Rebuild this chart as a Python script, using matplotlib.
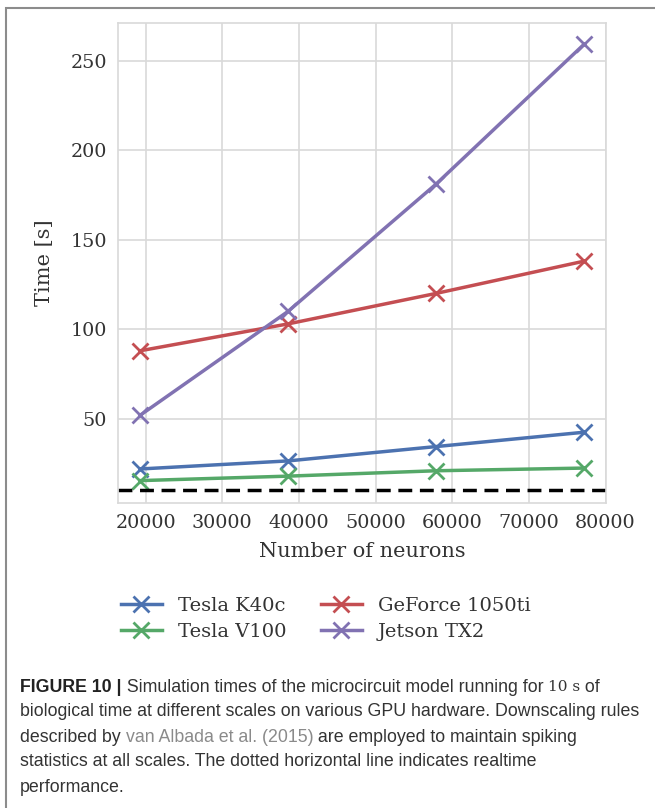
import numpy as np
import matplotlib.pyplot as plt
from matplotlib.patches import Rectangle

# data
neurons = [19292, 38585, 57877, 77169]
tesla_k40c = [22, 26.5, 34.5, 42.5]
tesla_v100 = [15.5, 18, 21, 22.5]
geforce_1050ti = [88, 103, 120, 138]
jetson_tx2 = [52, 110, 181, 259]
realtime = 10

series = [('Tesla K40c', tesla_k40c, '#4C72B0'),
          ('Tesla V100', tesla_v100, '#55A868'),
          ('GeForce 1050ti', geforce_1050ti, '#C44E52'),
          ('Jetson TX2', jetson_tx2, '#8172B2')]

plt.rcParams['font.family'] = ['DejaVu Serif']

fig = plt.figure(figsize=(6.55, 8.08), dpi=100)
ax = fig.add_axes([118/655, 1 - 503/808, (606-118)/655, (503-23)/808])

for name, vals, col in series:
    ax.plot(neurons, vals, color=col, lw=2.5, marker='x', ms=11, mew=2, label=name)
ax.axhline(realtime, color='black', lw=2.5, ls=(0, (4, 2.2)))

ax.set_xlim(16398, 80063)
ax.set_ylim(3, 271)
ax.set_xticks([20000, 30000, 40000, 50000, 60000, 70000, 80000])
ax.set_yticks([50, 100, 150, 200, 250])
ax.grid(True, color='#d9d9d9', lw=1.2)
ax.set_axisbelow(True)
for s in ax.spines.values():
    s.set_color('#d9d9d9')
    s.set_linewidth(1.2)
ax.tick_params(length=0, labelsize=13.8, colors='#333333', pad=8)
ax.set_xlabel('Number of neurons', fontsize=15, color='#333333', labelpad=7)
ax.set_ylabel('Time [s]', fontsize=15, color='#333333', labelpad=12)

leg = ax.legend(ncol=2, loc='upper left', bbox_to_anchor=(-0.03, -0.16),
                frameon=False, fontsize=14, handlelength=2.1, columnspacing=1.75,
                labelspacing=0.4, handletextpad=0.85)
for t in leg.get_texts():
    t.set_color('#333333')

# frame around figure
fig.patches.append(Rectangle((6/655, -0.1), 1.2, 1.1 - 8/808, transform=fig.transFigure,
                             fill=False, ec='#8c8c8c', lw=1.5))

# caption
cap_font = ['Liberation Sans Narrow', 'Liberation Sans']
cap_size = 12.8
lines = [
    [('FIGURE 10 |', 'bold', '#222222', cap_font), (' Simulation times of the microcircuit model running for ', 'normal', '#333333', cap_font),
     ('10 s', 'normal', '#333333', ['DejaVu Serif']), (' of', 'normal', '#333333', cap_font)],
    [('biological time at different scales on various GPU hardware. Downscaling rules', 'normal', '#333333', cap_font)],
    [('described by ', 'normal', '#333333', cap_font), ('van Albada et al. (2015)', 'normal', '#8a8a8a', cap_font),
     (' are employed to maintain spiking', 'normal', '#333333', cap_font)],
    [('statistics at all scales. The dotted horizontal line indicates realtime', 'normal', '#333333', cap_font)],
    [('performance.', 'normal', '#333333', cap_font)],
]
line_y = [687, 712, 737, 762, 787]

fig.canvas.draw()
renderer = fig.canvas.get_renderer()
for parts, yy in zip(lines, line_y):
    x = 20
    for txt, weight, col, fam in parts:
        t = fig.text(x/655, 1 - yy/808, txt, fontsize=cap_size if fam is cap_font else 11,
                     fontweight=weight, color=col, family=fam, va='center', ha='left')
        bb = t.get_window_extent(renderer)
        x = bb.x1

fig.savefig('out.png', dpi=100)
